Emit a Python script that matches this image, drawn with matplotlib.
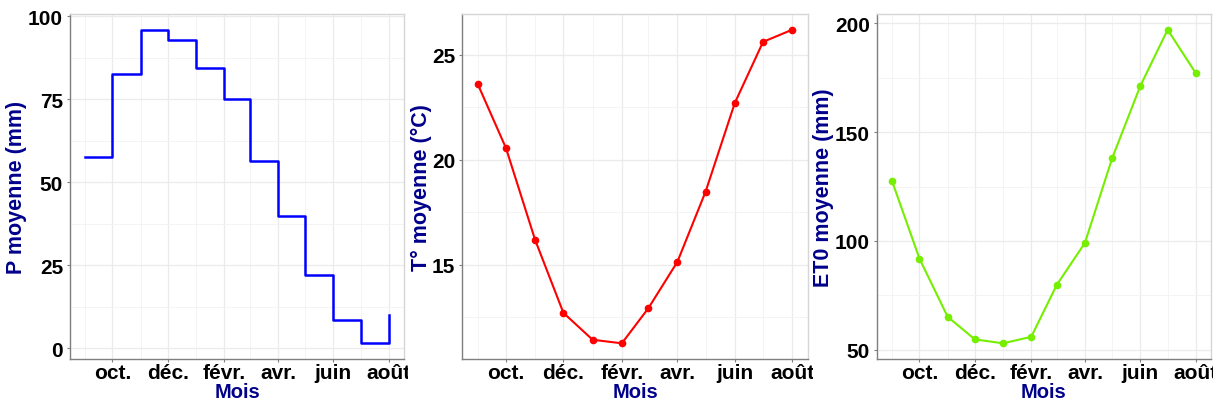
import datetime as dt
import matplotlib
matplotlib.use("Agg")
import matplotlib.pyplot as plt
import matplotlib.dates as mdates
from matplotlib.ticker import MultipleLocator, FuncFormatter
from matplotlib.transforms import Bbox, TransformedBbox

plt.rcParams['font.family'] = ['Liberation Sans', 'DejaVu Sans']
plt.rcParams['font.weight'] = 'bold'

# monthly means, september -> august
months = [dt.date(2020, 9, 1)] + [dt.date(2020 + (m > 12), (m - 1) % 12 + 1, 1) for m in range(10, 21)]
precip = [57.5, 82.5, 96.0, 93.0, 84.5, 75.0, 56.5, 40.0, 22.0, 8.5, 1.5, 10.0]
temp = [23.6, 20.55, 16.17, 12.7, 11.42, 11.25, 12.91, 15.13, 18.48, 22.7, 25.61, 26.19]
et0 = [127.3, 91.9, 65.2, 54.8, 53.0, 56.0, 79.8, 99.1, 138.0, 171.2, 197.0, 177.0]

fr_months = {1: 'janv.', 2: 'févr.', 3: 'mars', 4: 'avr.', 5: 'mai', 6: 'juin',
             7: 'juil.', 8: 'août', 9: 'sept.', 10: 'oct.', 11: 'nov.', 12: 'déc.'}

W, H = 1223, 410
fig = plt.figure(figsize=(W / 100, H / 100), dpi=100)

# left, right, label clip edge, ylabel offset (pixels)
panels = [
    (70, 404, 408, -43, precip, '#0000FF', 'P moyenne (mm)', 25, 12.5),
    (462, 808, 813, -30, temp, '#FF0000', 'T° moyenne (°C)', 5, 2.5),
    (877, 1211, 1213, -43, et0, '#76EE00', 'ET0 moyenne (mm)', 50, 25),
]
clip_left = [0, 408, 813]

for i, (x0, x1, clip_x, yoff, vals, col, ylab, major, minor) in enumerate(panels):
    ax = fig.add_axes([x0 / W, 50 / H, (x1 - x0) / W, 345 / H])
    if i == 0:
        ax.step(months, vals, where='post', color=col, lw=1.8)
    else:
        ax.plot(months, vals, color=col, lw=1.5, marker='o', ms=4.5)
    ax.margins(x=0.05, y=0.05)

    ax.xaxis.set_major_locator(mdates.MonthLocator(bymonth=[10, 12, 2, 4, 6, 8]))
    ax.xaxis.set_minor_locator(mdates.MonthLocator(bymonth=[9, 11, 1, 3, 5, 7]))
    ax.xaxis.set_major_formatter(FuncFormatter(lambda x, pos: fr_months[mdates.num2date(x).month]))
    ax.yaxis.set_major_locator(MultipleLocator(major))
    ax.yaxis.set_minor_locator(MultipleLocator(minor))

    ax.grid(which='major', color='#EBEBEB', lw=0.9)
    ax.grid(which='minor', color='#F3F3F3', lw=0.6)
    ax.set_axisbelow(True)

    for s in ['top', 'right']:
        ax.spines[s].set_color('#D6D6D6')
    for s in ['left', 'bottom']:
        ax.spines[s].set_color('#7F7F7F')
    for s in ax.spines.values():
        s.set_linewidth(1.0)

    ax.tick_params(which='major', length=2.5, color='#7F7F7F', labelsize=15, labelcolor='black', pad=2.5)
    ax.tick_params(axis='x', which='major', pad=0.3)
    ax.tick_params(which='minor', length=0)
    ax.set_xlabel('Mois', color='#00008B', fontsize=14.5, fontweight='bold', labelpad=0)
    ax.set_ylabel(ylab, color='#00008B', fontsize=15.5, fontweight='bold')
    ax.yaxis.set_label_coords(yoff / (x1 - x0), 0.5)

    # ggplot clips labels at the edge of each sub-plot
    box = TransformedBbox(Bbox([[clip_left[i] / W, 0], [clip_x / W, 1]]), fig.transFigure)
    for lab in ax.get_xticklabels():
        lab.set_clip_on(True)
        lab.set_clip_box(box)

fig.savefig('out.png', dpi=100)
